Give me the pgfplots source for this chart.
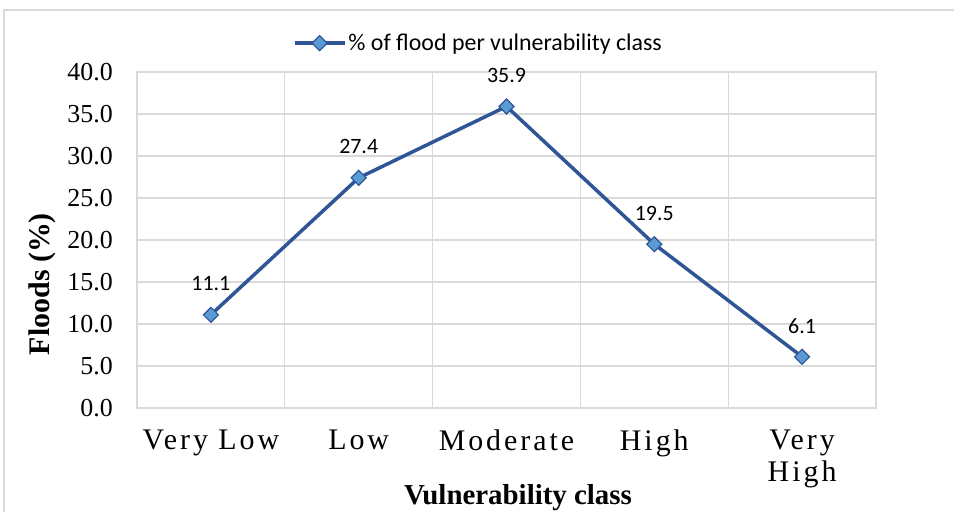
\documentclass[border=0pt]{standalone}
\usepackage{pgfplots}
\pgfplotsset{compat=1.18}
\usepackage{fontspec}
\setmainfont{Liberation Serif}
\newfontfamily\calibri{Carlito}
\newfontfamily\xlabfont{Liberation Serif}[LetterSpace=10]
\definecolor{linecol}{HTML}{2F5597}
\definecolor{markfill}{HTML}{5B9BD5}
\definecolor{gridcol}{HTML}{D9D9D9}
\begin{document}
\begin{tikzpicture}
\useasboundingbox (0bp,0bp) rectangle (954bp,-512bp);
\draw[gridcol, line width=2bp] (3.5bp,-512bp) -- (3.5bp,-10bp) -- (954bp,-10bp);
\begin{axis}[
  at={(137bp,-408bp)}, anchor=south west,
  scale only axis, width=739bp, height=336bp,
  xmin=-0.5, xmax=4.5, ymin=0, ymax=40,
  xtick={0,1,2,3,4},
  xticklabels={Very Low, Low, Moderate, High, {Very\\High}},
  minor xtick={-0.5,0.5,1.5,2.5,3.5,4.5},
  xminorgrids, ymajorgrids,
  ytick={0,5,...,40},
  major tick length=0pt, minor tick length=0pt,
  grid style={gridcol, line width=1.2bp},
  minor grid style={gridcol, line width=1.2bp},
  axis line style={gridcol, line width=1.2bp},
  /pgf/number format/assume math mode=true,
  yticklabel style={/pgf/number format/fixed, /pgf/number format/fixed zerofill, /pgf/number format/precision=1},
  yticklabel style={font=\fontsize{26}{28}\selectfont, inner sep=0pt, xshift=-24bp},
  xticklabel style={font=\xlabfont\fontsize{30}{32}\selectfont, align=center, anchor=north, inner sep=0pt, yshift=-22bp},
  ylabel={\textbf{Floods (\%)}},
  ylabel style={font=\fontsize{30}{32}\selectfont, at={(axis description cs:-0.1286,0.369)}, anchor=center},
  xlabel={\textbf{Vulnerability class}},
  xlabel style={font=\fontsize{29}{31}\selectfont, at={(axis description cs:0.5156,-0.268)}, anchor=center},
  legend style={at={(0.462,1.086)}, anchor=center, draw=none, fill=none,
    font=\calibri\fontsize{24}{26}\selectfont, legend cell align=left},
  legend image code/.code={\draw[mark repeat=2,mark phase=2,#1] plot coordinates {(0bp,0bp) (25bp,0bp) (50bp,0bp)};},
  nodes near coords,
  nodes near coords style={font=\calibri\fontsize{22}{24}\selectfont, anchor=center, yshift=31bp, text=black,
    /pgf/number format/fixed, /pgf/number format/precision=1},
]
\addplot[linecol, line width=3.5bp, mark=square*, mark size=5.3bp,
  mark options={rotate=45, fill=markfill, draw=linecol, line width=1.2bp}]
  coordinates {(0,11.1) (1,27.4) (2,35.9) (3,19.5) (4,6.1)};
\addlegendentry{\% of flood per vulnerability class}
\end{axis}
\end{tikzpicture}
\end{document}
